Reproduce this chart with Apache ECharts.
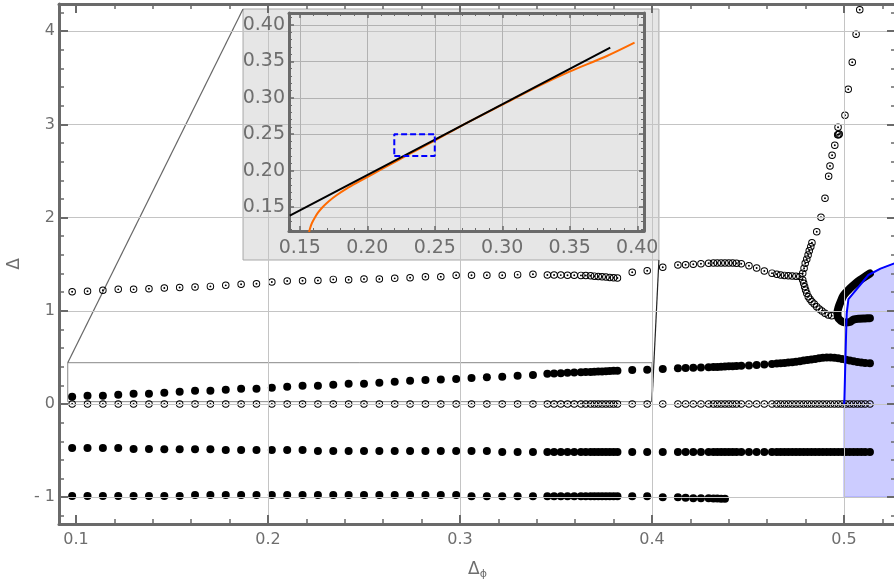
<!DOCTYPE html>
<html><head><meta charset="utf-8">
<script src="https://cdn.jsdelivr.net/npm/echarts@6/dist/echarts.min.js"></script>
<style>html,body{margin:0;padding:0;background:#fff}#c{width:894px;height:579px}</style>
</head><body><div id="c"></div>
<script>
// ---- sampled Δφ positions shared by the spectrum rows ----
const dphi = [
  0.098,0.106,0.114,0.122,0.130,0.138,0.146,0.154,0.162,0.170,0.178,0.186,0.194,0.202,0.210,0.218,0.226,0.234,0.242,0.250,0.258,0.266,0.274,0.282,0.290,0.298,0.306,0.314,0.322,0.330,0.338,
  0.3455,0.349,0.3525,0.356,0.3595,0.363,0.3655,0.368,0.370,0.372,0.374,0.376,0.378,0.380,0.382,
  0.3897,0.3975,0.4056,
  0.4135,0.4175,0.4215,0.4255,0.4295,0.432,0.434,0.436,0.438,0.440,0.442,0.444,0.4465,0.4505,0.4545,0.4585,0.4625,0.465,0.467,0.469,0.471,0.473,0.475,0.477,0.479,0.481,0.483,0.485,0.487,0.489,0.491,0.493,0.495,0.497,0.499,0.501,0.503,0.505,0.507,0.509,0.511,0.5135
];
// top open-circle row (first 73 samples)
const rowA = [
  1.205,1.21,1.22,1.23,1.23,1.236,1.245,1.25,1.255,1.262,1.273,1.284,1.291,1.308,1.319,1.323,1.326,1.337,1.333,1.341,1.341,1.348,1.355,1.366,1.366,1.381,1.381,1.381,1.381,1.388,1.392,
  1.385,1.384,1.383,1.382,1.381,1.380,1.378,1.375,1.372,1.369,1.366,1.362,1.358,1.355,1.352,
  1.413,1.430,1.467,
  1.491,1.495,1.499,1.505,1.510,1.512,1.513,1.513,1.513,1.513,1.512,1.510,1.504,1.483,1.460,1.428,1.404,1.392,1.385,1.380,1.376,1.373,1.370,1.367
];
const branchDown = [[0.4785,1.33],[0.479,1.295],[0.4795,1.259],[0.480,1.223],[0.4806,1.188],[0.4814,1.151],[0.4823,1.123],[0.4833,1.098],[0.4845,1.073],[0.4858,1.044],[0.4871,1.019],[0.4885,0.998],[0.4901,0.973],[0.4918,0.955],[0.4936,0.947]];
const branchUp = [[0.4785,1.402],[0.4792,1.456],[0.4798,1.51],[0.4806,1.553],[0.4813,1.599],[0.4819,1.645],[0.4827,1.688],[0.4833,1.731],[0.4858,1.849],[0.488,2.003],[0.4901,2.207],[0.492,2.443],[0.4927,2.554],[0.4938,2.668],[0.4952,2.776],[0.4967,2.889],[0.4975,2.897],[0.4972,2.89],[0.4969,2.969],[0.5005,3.098],[0.5022,3.377],[0.5043,3.666],[0.5063,3.967],[0.5082,4.231]];
// filled row rising from 0.08
const rowB = [
  0.078,0.089,0.089,0.100,0.110,0.110,0.121,0.132,0.143,0.143,0.153,0.164,0.164,0.175,0.185,0.195,0.195,0.206,0.216,0.216,0.227,0.239,0.250,0.257,0.262,0.268,0.279,0.288,0.293,0.302,0.312,
  0.325,0.328,0.331,0.334,0.337,0.340,0.342,0.344,0.346,0.348,0.350,0.352,0.354,0.356,0.358,
  0.365,0.367,0.376,
  0.383,0.385,0.388,0.391,0.394,0.396,0.398,0.400,0.402,0.404,0.406,0.408,0.410,0.414,0.418,0.424,0.430,0.434,0.437,0.440,0.444,0.448,0.453,0.459,0.466,0.472,0.478,0.484,0.490,0.495,0.499,0.500,0.497,0.490,0.482,0.474,0.466,0.458,0.450,0.444,0.440,0.437
];
// open-circle row at 0
const rowC = [
  0,0,0,0,0,0,0,0,0,0,0,0,0,0,0,0,0,0,0,0,0,0,0,0,0,0,0,0,0,0,0,
  0,0,0,0,0,0,0,0,0,0,0,0,0,0,0,
  0,0,0,
  0,0,0,0,0,0,0,0,0,0,0,0,0,0,0,0,0,0,0,0,0,0,0,0,0,0,0,0,0,0,0,0,0,0,0,0,0,0,0,0,0,0
];
// filled row near -0.5
const rowD = [
  -0.472,-0.472,-0.472,-0.472,-0.483,-0.483,-0.486,-0.486,-0.486,-0.486,-0.494,-0.494,-0.494,-0.494,-0.494,-0.494,-0.504,-0.504,-0.504,-0.504,-0.504,-0.504,-0.504,-0.504,-0.504,-0.504,-0.504,-0.504,-0.515,-0.515,-0.515,
  -0.515,-0.515,-0.515,-0.515,-0.515,-0.515,-0.515,-0.515,-0.515,-0.515,-0.515,-0.515,-0.515,-0.515,-0.515,
  -0.515,-0.515,-0.515,
  -0.515,-0.515,-0.515,-0.515,-0.515,-0.515,-0.515,-0.515,-0.515,-0.515,-0.515,-0.515,-0.515,-0.515,-0.515,-0.515,-0.515,-0.515,-0.515,-0.515,-0.515,-0.515,-0.515,-0.515,-0.515,-0.515,-0.515,-0.515,-0.515,-0.515,-0.515,-0.515,-0.515,-0.515,-0.515,-0.515,-0.515,-0.515,-0.515,-0.515,-0.515,-0.515
];
// filled row near -1 (first 58 samples)
const rowE = [
  -0.987,-0.987,-0.987,-0.987,-0.987,-0.987,-0.987,-0.987,-0.976,-0.976,-0.976,-0.976,-0.976,-0.976,-0.976,-0.976,-0.976,-0.976,-0.976,-0.976,-0.976,-0.976,-0.976,-0.976,-0.976,-0.976,-0.99,-0.99,-0.99,-0.99,-0.99,
  -0.99,-0.99,-0.99,-0.99,-0.99,-0.99,-0.99,-0.99,-0.99,-0.99,-0.99,-0.99,-0.99,-0.99,-0.99,
  -0.99,-0.99,-1.0,
  -1.0,-1.005,-1.01,-1.01,-1.012,-1.014,-1.015,-1.016,-1.016
];
// dense filled hook near Δφ = 0.5
const hook = [[0.5135,1.40],[0.5108,1.365],[0.5083,1.33],[0.5055,1.285],[0.5031,1.241],[0.5012,1.20],[0.4996,1.16],[0.4983,1.10],[0.4972,1.04],[0.4966,0.98],[0.4968,0.93],[0.4985,0.89],[0.5005,0.875],[0.503,0.88],[0.5049,0.905],[0.508,0.915],[0.511,0.918],[0.5135,0.92]];
// blue bound
const blueCurve = [[0.5,0],[0.5002,0.04],[0.5009,0.615],[0.5014,0.973],[0.5023,1.125],[0.5127,1.384],[0.519,1.452],[0.527,1.515]];
const blueRegion = [[0.5,-1],[0.5,0],[0.5002,0.04],[0.5009,0.615],[0.5014,0.973],[0.5023,1.125],[0.5127,1.384],[0.519,1.452],[0.527,1.515],[0.527,-1]];
// zoom box, connectors and inset panel (data coordinates of the main plot)
const zoomBox = [[0.0957,0.025],[0.4,0.025],[0.4,0.443],[0.0957,0.443],[0.0957,0.025]];
const connLeft = [[0.0957,0.443],[0.187,4.238]];
const connRight = [[0.4,0.025],[0.4036,1.545]];
const panel = [[0.187,1.545],[0.4036,1.545],[0.4036,4.238],[0.187,4.238]];
// inset curves
const insetBlack = [[0.1426,0.138],[0.26,0.2523],[0.38,0.369]];
const insetOrange = [[0.1565,0.112],[0.1575,0.120],[0.159,0.128],[0.161,0.135],[0.1636,0.1425],[0.167,0.150],[0.1715,0.158],[0.1775,0.1665],[0.185,0.1755],[0.1921,0.1830],[0.2044,0.1955],[0.2168,0.2082],[0.2292,0.2208],[0.2484,0.2397],[0.2687,0.2605],[0.2991,0.2895],[0.328,0.317],[0.3498,0.3359],[0.3775,0.3574],[0.398,0.3757]];
const insetBox = [[0.22,0.22],[0.25,0.22],[0.25,0.25],[0.22,0.25],[0.22,0.22]];
// grid lines of the main plot
const vGrid = [0.2,0.3,0.4,0.5];
const hGrid = [-1,0,1,2,3,4];

const zip = (ys) => ys.map((y,i) => [dphi[i], y]);
const gray = '#6e6e6e', frame = '#6a6a6a', font = 'DejaVu Sans';
const ring = 'path://M0,-10A10,10,0,1,1,0,10A10,10,0,1,1,0,-10ZM0,-7.4A7.4,7.4,0,1,0,0,7.4A7.4,7.4,0,1,0,0,-7.4ZM0,-2.6A2.6,2.6,0,1,1,0,2.6A2.6,2.6,0,1,1,0,-2.6Z';

const mainX = (pos, labels) => ({
  type:'value', gridIndex:0, min:0.09115, max:0.52708, position:pos, z:6,
  axisLine:{show:true, onZero:false, lineStyle:{color:frame, width:3}},
  axisTick:{show:true, inside:true, length:9, lineStyle:{color:frame, width:2}},
  minorTick:{show:true, splitNumber:5, length:5, lineStyle:{color:frame, width:1.5}},
  splitLine:{show:false},
  axisLabel:{show:labels, fontSize:16, color:gray, fontFamily:font, margin:8, showMinLabel:false, showMaxLabel:false, formatter:v=>v.toFixed(1)}
});
const mainY = (pos, labels) => ({
  type:'value', gridIndex:0, min:-1.2876, max:4.2918, position:pos, z:6,
  axisLine:{show:true, onZero:false, lineStyle:{color:frame, width:3}},
  axisTick:{show:true, inside:true, length:9, lineStyle:{color:frame, width:2}},
  minorTick:{show:true, splitNumber:5, length:5, lineStyle:{color:frame, width:1.5}},
  splitLine:{show:false},
  axisLabel:{show:labels, fontSize:16, color:gray, fontFamily:font, margin:4, showMinLabel:false, showMaxLabel:false, formatter:v=> v<0 ? '- '+(-v) : ''+v}
});
const insetAxis = (pos, min, max, labels, margin) => ({
  type:'value', gridIndex:1, min:min, max:max, position:pos, z:10,
  axisLine:{show:true, onZero:false, lineStyle:{color:frame, width:3}},
  axisTick:{show:true, inside:true, length:5, lineStyle:{color:frame, width:1.5}},
  minorTick:{show:true, splitNumber:5, length:3, lineStyle:{color:frame, width:1}},
  splitLine:{show:labels, lineStyle:{color:'#b2b2b2', width:1}},
  axisLabel:{show:labels, fontSize:19, color:gray, fontFamily:font, margin:margin, showMinLabel:false, showMaxLabel:false, formatter:v=>v.toFixed(2)}
});

const xA = mainX('bottom', true);
xA.name = '{d|Δ}{s|ϕ}';
xA.nameLocation = 'middle'; xA.nameGap = 36;
xA.nameTextStyle = {rich:{d:{fontSize:17, color:gray, fontFamily:font}, s:{fontSize:11, color:gray, fontFamily:font, padding:[9,0,0,0]}}};
const yA = mainY('left', true);
yA.name = 'Δ'; yA.nameLocation = 'middle'; yA.nameGap = 36; yA.nameRotate = 90;
yA.nameTextStyle = {fontSize:17, color:gray, fontFamily:font};

const ringStyle = {color:'#000', opacity:1};
const dotStyle = {color:'#000', opacity:1};
const chart = echarts.init(document.getElementById('c'), null, {renderer:'canvas'});
chart.setOption({
  animation:false,
  backgroundColor:'#fff',
  grid:[{left:59, right:-2, top:4, bottom:55, containLabel:false, outerBoundsMode:'none'},
        {left:289, top:13, width:355, height:218, containLabel:false, outerBoundsMode:'none'}],
  xAxis:[xA, mainX('top', false), insetAxis('bottom',0.142,0.405,true,8), insetAxis('top',0.142,0.405,false,8)],
  yAxis:[yA, mainY('right', false), insetAxis('left',0.117,0.4165,true,4), insetAxis('right',0.117,0.4165,false,4)],
  series:[
    {type:'line', xAxisIndex:0, yAxisIndex:0, z:0, silent:true, showSymbol:false, data:[[0.3,0]], lineStyle:{opacity:0},
     markLine:{silent:true, symbol:['none','none'], label:{show:false}, lineStyle:{color:'#c4c4c4', width:1, type:'solid'},
       data:[...vGrid.map(v=>({xAxis:v})), ...hGrid.map(v=>({yAxis:v}))]}},
    {type:'custom', xAxisIndex:0, yAxisIndex:0, z:1, silent:true, clip:true, data:[[0.5,0]],
     renderItem:(p,api)=>({type:'polygon', shape:{points:blueRegion.map(q=>api.coord(q))}, style:{fill:'rgba(0,0,255,0.2)', stroke:'rgba(40,40,255,0.45)', lineWidth:1}})},
    {type:'custom', xAxisIndex:0, yAxisIndex:0, z:2, silent:true, clip:true, data:[[0.3,2]],
     renderItem:(p,api)=>({type:'polygon', shape:{points:panel.map(q=>api.coord(q))}, style:{fill:'rgba(128,128,128,0.2)', stroke:'#a8a8a8', lineWidth:1}})},
    {type:'line', xAxisIndex:0, yAxisIndex:0, z:3, silent:true, showSymbol:false, data:zoomBox, lineStyle:{color:'#888', width:1}},
    {type:'line', xAxisIndex:0, yAxisIndex:0, z:3, silent:true, showSymbol:false, data:connLeft, lineStyle:{color:'#666', width:1.2}},
    {type:'line', xAxisIndex:0, yAxisIndex:0, z:3, silent:true, showSymbol:false, data:connRight, lineStyle:{color:'#222', width:1.2}},
    {type:'scatter', xAxisIndex:0, yAxisIndex:0, z:4, silent:true, symbol:'circle', symbolSize:8, itemStyle:dotStyle, data:zip(rowB)},
    {type:'scatter', xAxisIndex:0, yAxisIndex:0, z:4, silent:true, symbol:'circle', symbolSize:8, itemStyle:dotStyle, data:zip(rowD)},
    {type:'scatter', xAxisIndex:0, yAxisIndex:0, z:4, silent:true, symbol:'circle', symbolSize:8, itemStyle:dotStyle, data:zip(rowE)},
    {type:'scatter', xAxisIndex:0, yAxisIndex:0, z:4, silent:true, symbol:ring, symbolSize:7.5, itemStyle:ringStyle, data:zip(rowC)},
    {type:'scatter', xAxisIndex:0, yAxisIndex:0, z:4, silent:true, symbol:ring, symbolSize:7.5, itemStyle:ringStyle, data:zip(rowA)},
    {type:'scatter', xAxisIndex:0, yAxisIndex:0, z:4, silent:true, symbol:ring, symbolSize:7.5, itemStyle:ringStyle, data:branchDown},
    {type:'scatter', xAxisIndex:0, yAxisIndex:0, z:4, silent:true, symbol:ring, symbolSize:7.5, itemStyle:ringStyle, data:branchUp},
    {type:'line', xAxisIndex:0, yAxisIndex:0, z:4, silent:true, showSymbol:false, data:hook, smooth:0.3, lineStyle:{color:'#000', width:8, cap:'round', join:'round'}},
    {type:'line', xAxisIndex:0, yAxisIndex:0, z:5, silent:true, showSymbol:false, data:blueCurve, lineStyle:{color:'#0000ff', width:2}},
    {type:'line', xAxisIndex:2, yAxisIndex:2, z:11, silent:true, showSymbol:false, data:insetOrange, smooth:0.3, lineStyle:{color:'#ff6a00', width:2}},
    {type:'line', xAxisIndex:2, yAxisIndex:2, z:12, silent:true, showSymbol:false, data:insetBlack, lineStyle:{color:'#000', width:2}},
    {type:'line', xAxisIndex:2, yAxisIndex:2, z:12, silent:true, showSymbol:false, data:insetBox, lineStyle:{color:'#0000ff', width:2, type:[6,3]}}
  ]
});
</script>
</body></html>
